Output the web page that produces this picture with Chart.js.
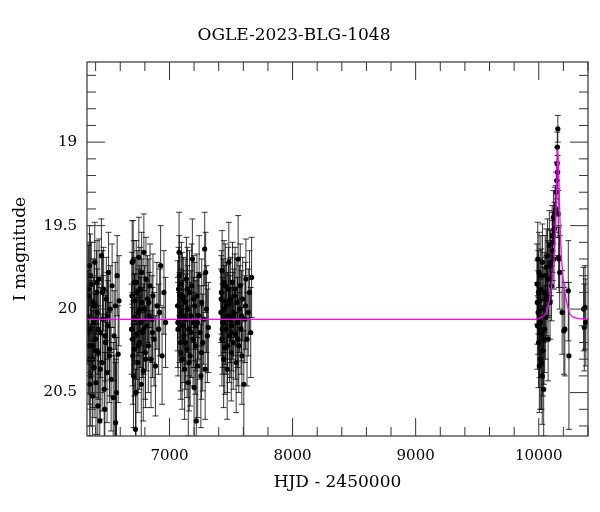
<!DOCTYPE html>
<html>
<head>
<meta charset="utf-8">
<script src="https://cdn.jsdelivr.net/npm/chart.js@4.4.1/dist/chart.umd.min.js"></script>
<style>
  body { margin: 0; background: #fff; }
</style>
</head>
<body>
<canvas id="lc" width="600" height="512"></canvas>
<script>
// OGLE-2023-BLG-1048 light curve, HJD - 2450000 / I mag / mag error
// season 1
const s1Hjd = [6336, 6341, 6346, 6350, 6355, 6360, 6365, 6370, 6374, 6379, 6384, 6388, 6393, 6398, 6403, 6408,
  6413, 6418, 6423, 6428, 6434, 6440, 6447, 6453, 6459, 6465, 6470, 6475, 6481, 6487, 6493, 6499, 6505, 6512,
  6519, 6526, 6534, 6543, 6550, 6556, 6560, 6562, 6566, 6570, 6575, 6583, 6590,
  6338, 6344, 6352, 6358, 6367, 6377, 6390, 6401, 6411, 6421, 6438, 6456, 6478, 6496, 6515]
const s1Mag = [20.05, 19.92, 20.30, 19.74, 20.12, 20.40, 19.85, 20.22, 20.52, 19.96, 20.08, 20.35, 19.72, 20.18,
  20.44, 19.90, 20.02, 20.58, 20.26, 19.82, 20.67, 20.14, 19.68, 20.32, 20.06, 19.88, 20.48, 20.60, 20.20, 19.94,
  20.38, 20.10, 19.78, 20.28, 20.00, 20.42, 19.86, 20.53, 20.16, 21.00, 19.98, 20.68, 21.25, 20.50, 19.80, 20.27, 19.95,
  19.88, 20.22, 20.45, 19.80, 20.10, 20.30, 19.98, 20.25, 19.84, 20.12, 20.36, 19.90, 20.16, 20.04, 20.24]
const s1Err = [0.28, 0.30, 0.27, 0.24, 0.26, 0.30, 0.25, 0.28, 0.33, 0.26, 0.27, 0.30, 0.24, 0.27, 0.31, 0.25,
  0.26, 0.34, 0.28, 0.24, 0.36, 0.27, 0.22, 0.29, 0.26, 0.25, 0.32, 0.34, 0.28, 0.25, 0.30, 0.27, 0.24, 0.28,
  0.26, 0.31, 0.25, 0.33, 0.27, 0.72, 0.26, 0.36, 0.95, 0.33, 0.24, 0.29, 0.27,
  0.27, 0.29, 0.31, 0.25, 0.27, 0.29, 0.26, 0.28, 0.25, 0.27, 0.30, 0.25, 0.27, 0.26, 0.28]

// season 2
const s2Hjd = [6692, 6697, 6702, 6705, 6708, 6711, 6714, 6718, 6722, 6724, 6728, 6733, 6738, 6743, 6748, 6751,
  6756, 6761, 6766, 6771, 6776, 6781, 6787, 6792, 6797, 6803, 6809, 6815, 6821, 6828, 6835, 6842, 6850, 6858,
  6866, 6875, 6886, 6898, 6912, 6928, 6940, 6955, 6968,
  6695, 6700, 6716, 6730, 6745, 6759, 6774, 6790, 6806, 6832, 6862, 6920]
const s2Mag = [20.12, 19.72, 20.28, 19.71, 20.40, 19.84, 20.24, 20.05, 19.95, 20.72, 20.50, 20.15, 19.90, 20.32,
  20.02, 19.69, 20.20, 19.88, 20.08, 20.45, 19.96, 20.14, 20.37, 19.66, 20.00, 20.26, 19.82, 20.10, 19.94, 20.22,
  20.04, 19.86, 20.30, 20.06, 19.92, 20.18, 20.34, 19.98, 20.12, 19.74, 20.28, 19.90, 20.08,
  19.92, 20.18, 20.06, 19.84, 20.22, 20.00, 19.78, 20.12, 20.30, 19.96, 20.14, 20.02]
const s2Err = [0.27, 0.25, 0.29, 0.24, 0.31, 0.25, 0.28, 0.26, 0.26, 0.36, 0.33, 0.27, 0.25, 0.30, 0.26, 0.24,
  0.28, 0.25, 0.27, 0.32, 0.26, 0.27, 0.30, 0.23, 0.26, 0.28, 0.25, 0.27, 0.26, 0.28, 0.26, 0.25, 0.29, 0.26,
  0.25, 0.28, 0.30, 0.26, 0.27, 0.24, 0.29, 0.25, 0.27,
  0.26, 0.28, 0.27, 0.25, 0.28, 0.26, 0.24, 0.27, 0.29, 0.26, 0.27, 0.26]

// season 3
const s3Hjd = [7066, 7070, 7074, 7078, 7082, 7086, 7090, 7094, 7098, 7103, 7108, 7113, 7118, 7123, 7128, 7133,
  7138, 7143, 7148, 7153, 7158, 7163, 7168, 7174, 7180, 7186, 7191, 7196, 7200, 7205, 7210, 7214, 7218, 7223,
  7229, 7235, 7241, 7248, 7255, 7262, 7270, 7278, 7286, 7290, 7294, 7300, 7308, 7316,
  7068, 7080, 7092, 7105, 7116, 7130, 7146, 7160, 7177, 7198, 7226, 7260]
const s3Mag = [19.98, 20.12, 19.88, 19.66, 20.05, 19.92, 20.20, 20.02, 19.85, 20.30, 20.10, 19.94, 20.16, 20.36,
  19.96, 20.06, 19.82, 20.24, 20.00, 20.44, 20.12, 19.90, 20.28, 20.04, 19.86, 19.70, 20.18, 20.08, 20.47, 19.98,
  20.22, 20.10, 20.67, 19.92, 20.34, 20.04, 19.80, 20.14, 20.40, 19.96, 20.20, 20.06, 19.64, 20.36, 19.78, 20.00,
  20.16, 20.11,
  20.08, 19.80, 20.26, 19.92, 20.04, 20.20, 19.88, 20.32, 20.14, 19.94, 20.08, 20.26]
const s3Err = [0.27, 0.28, 0.25, 0.24, 0.27, 0.25, 0.29, 0.26, 0.25, 0.30, 0.27, 0.25, 0.28, 0.30, 0.26, 0.27,
  0.25, 0.29, 0.26, 0.32, 0.28, 0.25, 0.30, 0.27, 0.25, 0.24, 0.28, 0.27, 0.33, 0.26, 0.29, 0.27, 0.36, 0.25,
  0.31, 0.26, 0.24, 0.28, 0.31, 0.26, 0.29, 0.27, 0.22, 0.30, 0.24, 0.26, 0.28, 0.27,
  0.27, 0.24, 0.28, 0.26, 0.27, 0.28, 0.25, 0.29, 0.27, 0.26, 0.27, 0.28]

// season 4
const s4Hjd = [7418, 7422, 7426, 7428, 7432, 7436, 7440, 7445, 7449, 7454, 7459, 7464, 7469, 7474, 7478, 7482,
  7487, 7492, 7497, 7502, 7507, 7512, 7518, 7524, 7530, 7536, 7542, 7548, 7553, 7558, 7563, 7569, 7575, 7581,
  7588, 7595, 7604, 7612, 7621, 7630, 7640, 7650, 7660, 7667,
  7420, 7430, 7443, 7457, 7471, 7485, 7500, 7515, 7533, 7556, 7585, 7618]
const s4Mag = [20.02, 19.90, 20.18, 19.77, 20.08, 19.95, 20.30, 20.00, 20.23, 19.86, 20.12, 19.98, 20.36, 20.04,
  19.88, 19.72, 20.16, 20.06, 19.94, 20.26, 20.10, 19.84, 20.20, 20.02, 19.92, 20.15, 20.32, 19.96, 20.08, 19.70,
  20.22, 20.00, 19.86, 20.12, 20.28, 19.94, 20.45, 20.06, 19.82, 20.18, 20.02, 19.90, 20.14, 19.81,
  19.94, 20.12, 19.84, 20.06, 20.22, 19.96, 20.14, 20.04, 19.88, 20.18, 20.04, 19.98]
const s4Err = [0.26, 0.25, 0.28, 0.24, 0.27, 0.25, 0.29, 0.26, 0.28, 0.25, 0.27, 0.26, 0.30, 0.26, 0.25, 0.24,
  0.28, 0.26, 0.25, 0.29, 0.27, 0.24, 0.28, 0.26, 0.25, 0.27, 0.30, 0.26, 0.27, 0.26, 0.28, 0.26, 0.25, 0.27,
  0.29, 0.25, 0.32, 0.26, 0.24, 0.28, 0.26, 0.25, 0.27, 0.24,
  0.26, 0.27, 0.25, 0.27, 0.28, 0.26, 0.27, 0.26, 0.25, 0.28, 0.27, 0.26]

// 2023 season with the event
const s5Hjd = [9986, 9989, 9992, 9995, 9998, 10002, 10005, 10009, 10012, 10015, 10019, 10022, 10026, 10030, 10033,
  10037, 10040, 10044, 10048, 10052, 10056, 10061, 10066, 10071, 10076, 10081, 10086, 10092, 10098, 10104, 10109,
  10114, 10119, 10124, 10128, 10133, 10138, 10142, 10146, 10149, 10151, 10153, 10155, 10158, 10162, 10165, 10170,
  10190, 10204, 10212, 10240, 10245, 10364, 10370, 10376, 10382,
  9988, 9997, 10007, 10017, 10028, 10042, 10058, 10074, 10094, 10112]
const s5Mag = [19.85, 20.10, 19.70, 20.02, 20.20, 19.78, 20.34, 19.95, 20.30, 20.08, 19.88, 20.32, 20.15, 19.72,
  20.25, 20.00, 20.48, 19.90, 20.12, 19.80, 20.05, 19.75, 19.92, 19.68, 20.18, 19.82, 19.62, 19.96, 19.72, 19.86,
  19.56, 19.65, 19.45, 19.70, 19.52, 19.42, 19.40, 19.30, 19.23, 19.13, 19.03, 19.18, 18.92, 19.43, 19.69, 19.70,
  19.78, 20.02, 20.13, 20.12, 19.89, 20.28, 20.00, 20.11, 19.99, 20.08,
  19.96, 19.90, 20.14, 19.80, 20.40, 20.18, 19.94, 19.82, 19.74, 19.60]
const s5Err = [0.24, 0.26, 0.22, 0.25, 0.27, 0.24, 0.28, 0.25, 0.30, 0.26, 0.24, 0.28, 0.26, 0.23, 0.27, 0.25,
  0.28, 0.24, 0.26, 0.24, 0.25, 0.23, 0.24, 0.22, 0.25, 0.22, 0.21, 0.22, 0.20, 0.21, 0.18, 0.18, 0.16, 0.18,
  0.16, 0.15, 0.14, 0.12, 0.11, 0.10, 0.09, 0.10, 0.08, 0.14, 0.18, 0.20, 0.22, 0.25, 0.26, 0.28, 0.30, 0.44,
  0.25, 0.26, 0.25, 0.26,
  0.25, 0.25, 0.27, 0.24, 0.29, 0.27, 0.25, 0.23, 0.21, 0.18]

// model curve
const modelHjd = [6330, 9950, 10020, 10070, 10114, 10132, 10140, 10147, 10155, 10163, 10170, 10178, 10196, 10240, 10290, 10400]
const modelMag = [20.062, 20.062, 20.05, 20.00, 19.80, 19.60, 19.40, 19.21, 19.04, 19.21, 19.40, 19.60, 19.80, 20.00, 20.05, 20.062]

const hjd = [...s1Hjd, ...s2Hjd, ...s3Hjd, ...s4Hjd, ...s5Hjd]
const mag = [...s1Mag, ...s2Mag, ...s3Mag, ...s4Mag, ...s5Mag]
const magErr = [...s1Err, ...s2Err, ...s3Err, ...s4Err, ...s5Err]

const serif = '"DejaVu Serif", "Liberation Serif", serif'

// labelled ticks at every multiple of step inside the axis range
function stepTicks(step) {
    return scale => {
        let ticks = []
        for (let k = Math.ceil(scale.min / step - 1e-9); k * step <= scale.max + 1e-9; k++) {
            ticks.push({value: +(k * step).toFixed(4)})
        }
        scale.ticks = ticks
    }
}

// vertical error bars with caps, under the points
const errorBars = {
    id: 'errorBars',
    beforeDatasetsDraw(chart) {
        const {ctx, chartArea: a, scales: {x, y}} = chart
        ctx.save()
        ctx.beginPath()
        ctx.rect(a.left, a.top, a.right - a.left, a.bottom - a.top)
        ctx.clip()
        ctx.strokeStyle = 'rgba(0,0,0,0.78)'
        ctx.lineWidth = 1
        for (let ds of chart.data.datasets) {
            if (!ds.errors) continue
            ds.data.forEach((p, i) => {
                const px = x.getPixelForValue(p.x)
                const y1 = y.getPixelForValue(p.y - ds.errors[i])
                const y2 = y.getPixelForValue(p.y + ds.errors[i])
                ctx.beginPath()
                ctx.moveTo(px, y1); ctx.lineTo(px, y2)
                ctx.moveTo(px - 3, y1); ctx.lineTo(px + 3, y1)
                ctx.moveTo(px - 3, y2); ctx.lineTo(px + 3, y2)
                ctx.stroke()
            })
        }
        ctx.restore()
    }
}

// box around the plot with inward ticks on all four sides
const frame = {
    id: 'frame',
    afterDraw(chart) {
        const {ctx, chartArea: a, scales: {x, y}} = chart
        ctx.save()
        ctx.strokeStyle = '#333'
        ctx.lineWidth = 1.2
        ctx.strokeRect(a.left, a.top, a.right - a.left, a.bottom - a.top)
        ctx.lineWidth = 1
        ctx.beginPath()
        for (let v = Math.ceil(x.min / 200) * 200; v <= x.max; v += 200) {
            const px = x.getPixelForValue(v)
            const len = v % 1000 === 0 ? 18 : 9
            ctx.moveTo(px, a.bottom); ctx.lineTo(px, a.bottom - len)
            ctx.moveTo(px, a.top); ctx.lineTo(px, a.top + len)
        }
        for (let k = Math.ceil(y.min * 10); k <= Math.floor(y.max * 10); k++) {
            const py = y.getPixelForValue(k / 10)
            const len = k % 5 === 0 ? 18 : 9
            ctx.moveTo(a.left, py); ctx.lineTo(a.left + len, py)
            ctx.moveTo(a.right, py); ctx.lineTo(a.right - len, py)
        }
        ctx.stroke()
        ctx.restore()
    }
}

let chart = new Chart(document.getElementById('lc'), {
    type: 'scatter',
    data: {
        datasets: [{
            label: 'model',
            data: modelHjd.map((t, i) => ({x: t, y: modelMag[i]})),
            showLine: true,
            borderColor: '#ff00ff',
            borderWidth: 1.3,
            pointRadius: 0,
            cubicInterpolationMode: 'monotone'
        }, {
            label: 'OGLE',
            data: hjd.map((t, i) => ({x: t, y: mag[i]})),
            errors: magErr,
            backgroundColor: '#000',
            borderWidth: 0,
            pointRadius: 2.6
        }]
    },
    options: {
        responsive: false,
        animation: false,
        layout: {padding: {right: 12}},
        scales: {
            x: {
                min: 6330,
                max: 10400,
                grid: {display: false, drawTicks: false},
                border: {display: false},
                afterBuildTicks: stepTicks(1000),
                ticks: {padding: 11, color: '#000', font: {family: serif, size: 15}, callback: v => String(v)},
                title: {display: true, text: 'HJD - 2450000', color: '#000', padding: {top: 0, bottom: 19}, font: {family: serif, size: 17}},
                afterFit: s => { s.height = 76 }
            },
            y: {
                min: 18.52,
                max: 20.76,
                reverse: true,
                grid: {display: false, drawTicks: false},
                border: {display: false},
                afterBuildTicks: stepTicks(0.5),
                ticks: {padding: 10, color: '#000', font: {family: serif, size: 15}, callback: v => String(v)},
                title: {display: true, text: 'I magnitude', color: '#000', padding: {top: 10, bottom: 0}, font: {family: serif, size: 17}},
                afterFit: s => { s.width = 87 }
            }
        },
        plugins: {
            legend: {display: false},
            tooltip: {enabled: false},
            title: {
                display: true,
                text: 'OGLE-2023-BLG-1048',
                color: '#000',
                padding: {top: 25, bottom: 16.6},
                font: {family: serif, size: 17, weight: 'normal'}
            }
        }
    },
    plugins: [errorBars, frame]
})
</script>
</body>
</html>
